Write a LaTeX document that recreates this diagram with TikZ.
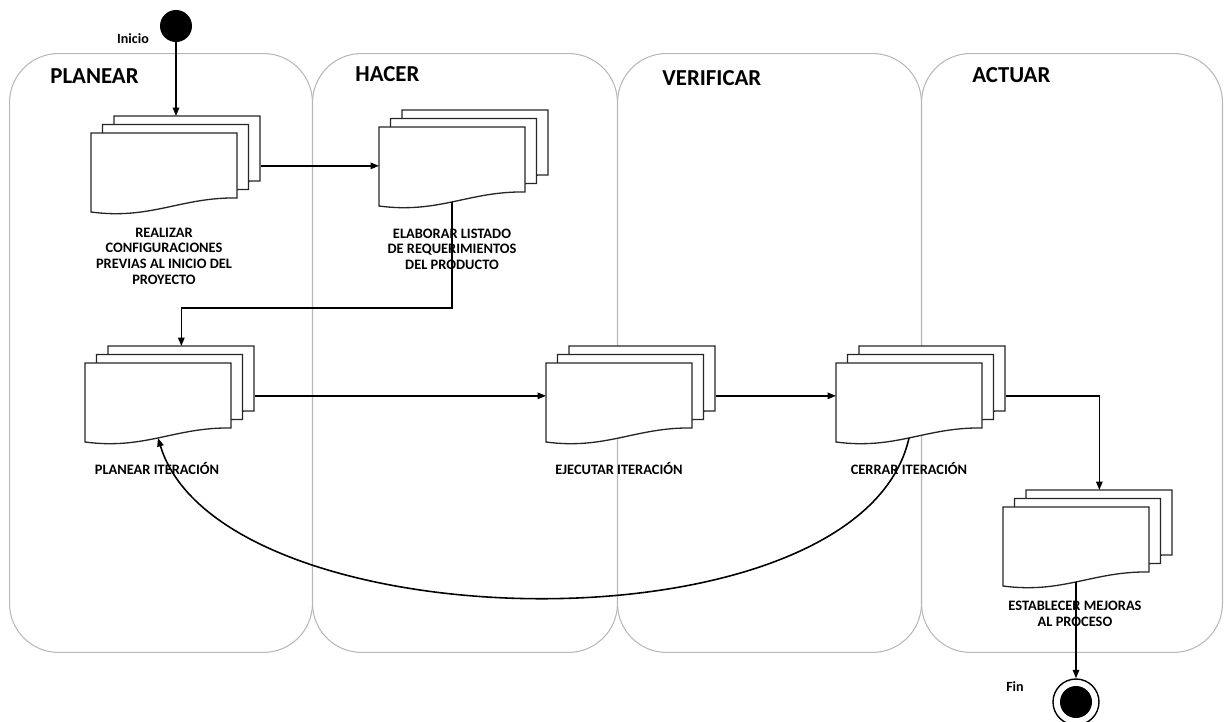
\documentclass[tikz,border=0pt]{standalone}
\usepackage{fontspec}
\setmainfont{Carlito}
\usetikzlibrary{arrows.meta,positioning}

% one page of a stacked document, #1 = node that holds it
\newcommand{\docpage}[1]{%
  \draw[docpage, shift={(#1.north west)}] (0,0) -- (146,0) -- (146,65)
    .. controls (90,64) and (60,87) .. (0,79) -- cycle;}

% three stacked pages, #1 = name, #2 = top left corner of the front page
\newcommand{\docstack}[2]{%
  \node[docbox] (#1) at (#2) {};
  \node[docbox] (#1-mid)  at ([shift={(11.5,-8.5)}]#1.north west) {};
  \node[docbox] (#1-back) at ([shift={(23,-17)}]#1.north west) {};
  \docpage{#1-back}\docpage{#1-mid}\docpage{#1}
  \coordinate (#1-w) at ([shift={(73,75)}]#1.north west);}

\begin{document}
\begin{tikzpicture}[
    x=0.02cm, y=-0.02cm,
    lane/.style={draw=black!28, line width=0.6pt, rounded corners=0.98cm,
        minimum height=11.98cm, anchor=north west, inner sep=0pt},
    lanetitle/.style={font=\bfseries\fontsize{13}{15}\selectfont, anchor=west, inner sep=0pt},
    docbox/.style={inner sep=0pt, minimum width=2.92cm, minimum height=1.3cm,
        anchor=north west},
    docpage/.style={draw=black!85, fill=white, line width=0.75pt},
    doclabel/.style={font=\bfseries\fontsize{8.2}{8.9}\selectfont, align=center},
    endlabel/.style={font=\bfseries\fontsize{8}{9}\selectfont},
    flow/.style={-{Triangle[length=1.7mm,width=1.3mm]}, line width=0.9pt},
]
\useasboundingbox (0,0) rectangle (1225,721);

% Lanes
\node[lane, minimum width=6.06cm] (planear)   at (9,53)   {};
\node[lane, minimum width=6.10cm] (hacer)     at (312,53) {};
\node[lane, minimum width=6.08cm] (verificar) at (617,53) {};
\node[lane, minimum width=6.02cm] (actuar)    at (921,53) {};

\node[lanetitle] (planear-t)   at (50,76)  {PLANEAR};
\node[lanetitle] (hacer-t)     at (355,74) {HACER};
\node[lanetitle] (verificar-t) at (662,78) {VERIFICAR};
\node[lanetitle] (actuar-t)    at (972,75) {ACTUAR};

% Start and end
\node[circle, fill=black, minimum size=0.64cm, inner sep=0pt] (inicio) at (176,26) {};
\node[endlabel] (inicio-l) at (133,39) {Inicio};
\node[circle, draw, line width=0.8pt, minimum size=0.92cm, inner sep=0pt,
    path picture={\fill (path picture bounding box.center) circle (0.32cm);}] (fin) at (1076,702) {};
\node[endlabel] (fin-l) at (1015,687) {Fin};

% Activities
\docstack{cfg}{91,133}
\docstack{elab}{379,127}
\docstack{pit}{85,363}
\docstack{eje}{546,363}
\docstack{cer}{836,363}
\docstack{est}{1003,507}

\node[doclabel] (cfg-l)  at (164,256) {REALIZAR\\CONFIGURACIONES\\PREVIAS AL INICIO DEL\\PROYECTO};
\node[doclabel] (elab-l) at (452,249) {ELABORAR LISTADO\\DE REQUERIMIENTOS\\DEL PRODUCTO};
\node[doclabel] (pit-l)  at (157,468) {PLANEAR ITERACIÓN};
\node[doclabel] (eje-l)  at (619,468) {EJECUTAR ITERACIÓN};
\node[doclabel] (cer-l)  at (909,468) {CERRAR ITERACIÓN};
\node[doclabel] (est-l)  at (1075,614) {ESTABLECER MEJORAS\\AL PROCESO};

% Flow
\draw[flow] (inicio) -- (inicio |- cfg-back.north);
\draw[flow] (cfg-back.east |- cfg.east) -- (elab.west |- cfg.east);
\draw[flow] (elab-w) -- ++(0,106) -| (pit-back.north);
\draw[flow] (pit-back.east |- pit.east) -- (eje.west);
\draw[flow] (eje-back.east |- eje.east) -- (cer.west);
\draw[flow] (cer-back.east |- cer.east) -| (est-back.north);
\draw[flow] (est-w) -- (fin);
\draw[flow] (cer-w) .. controls +(-49,219) and +(63,207) .. (pit-w);
\end{tikzpicture}
\end{document}
